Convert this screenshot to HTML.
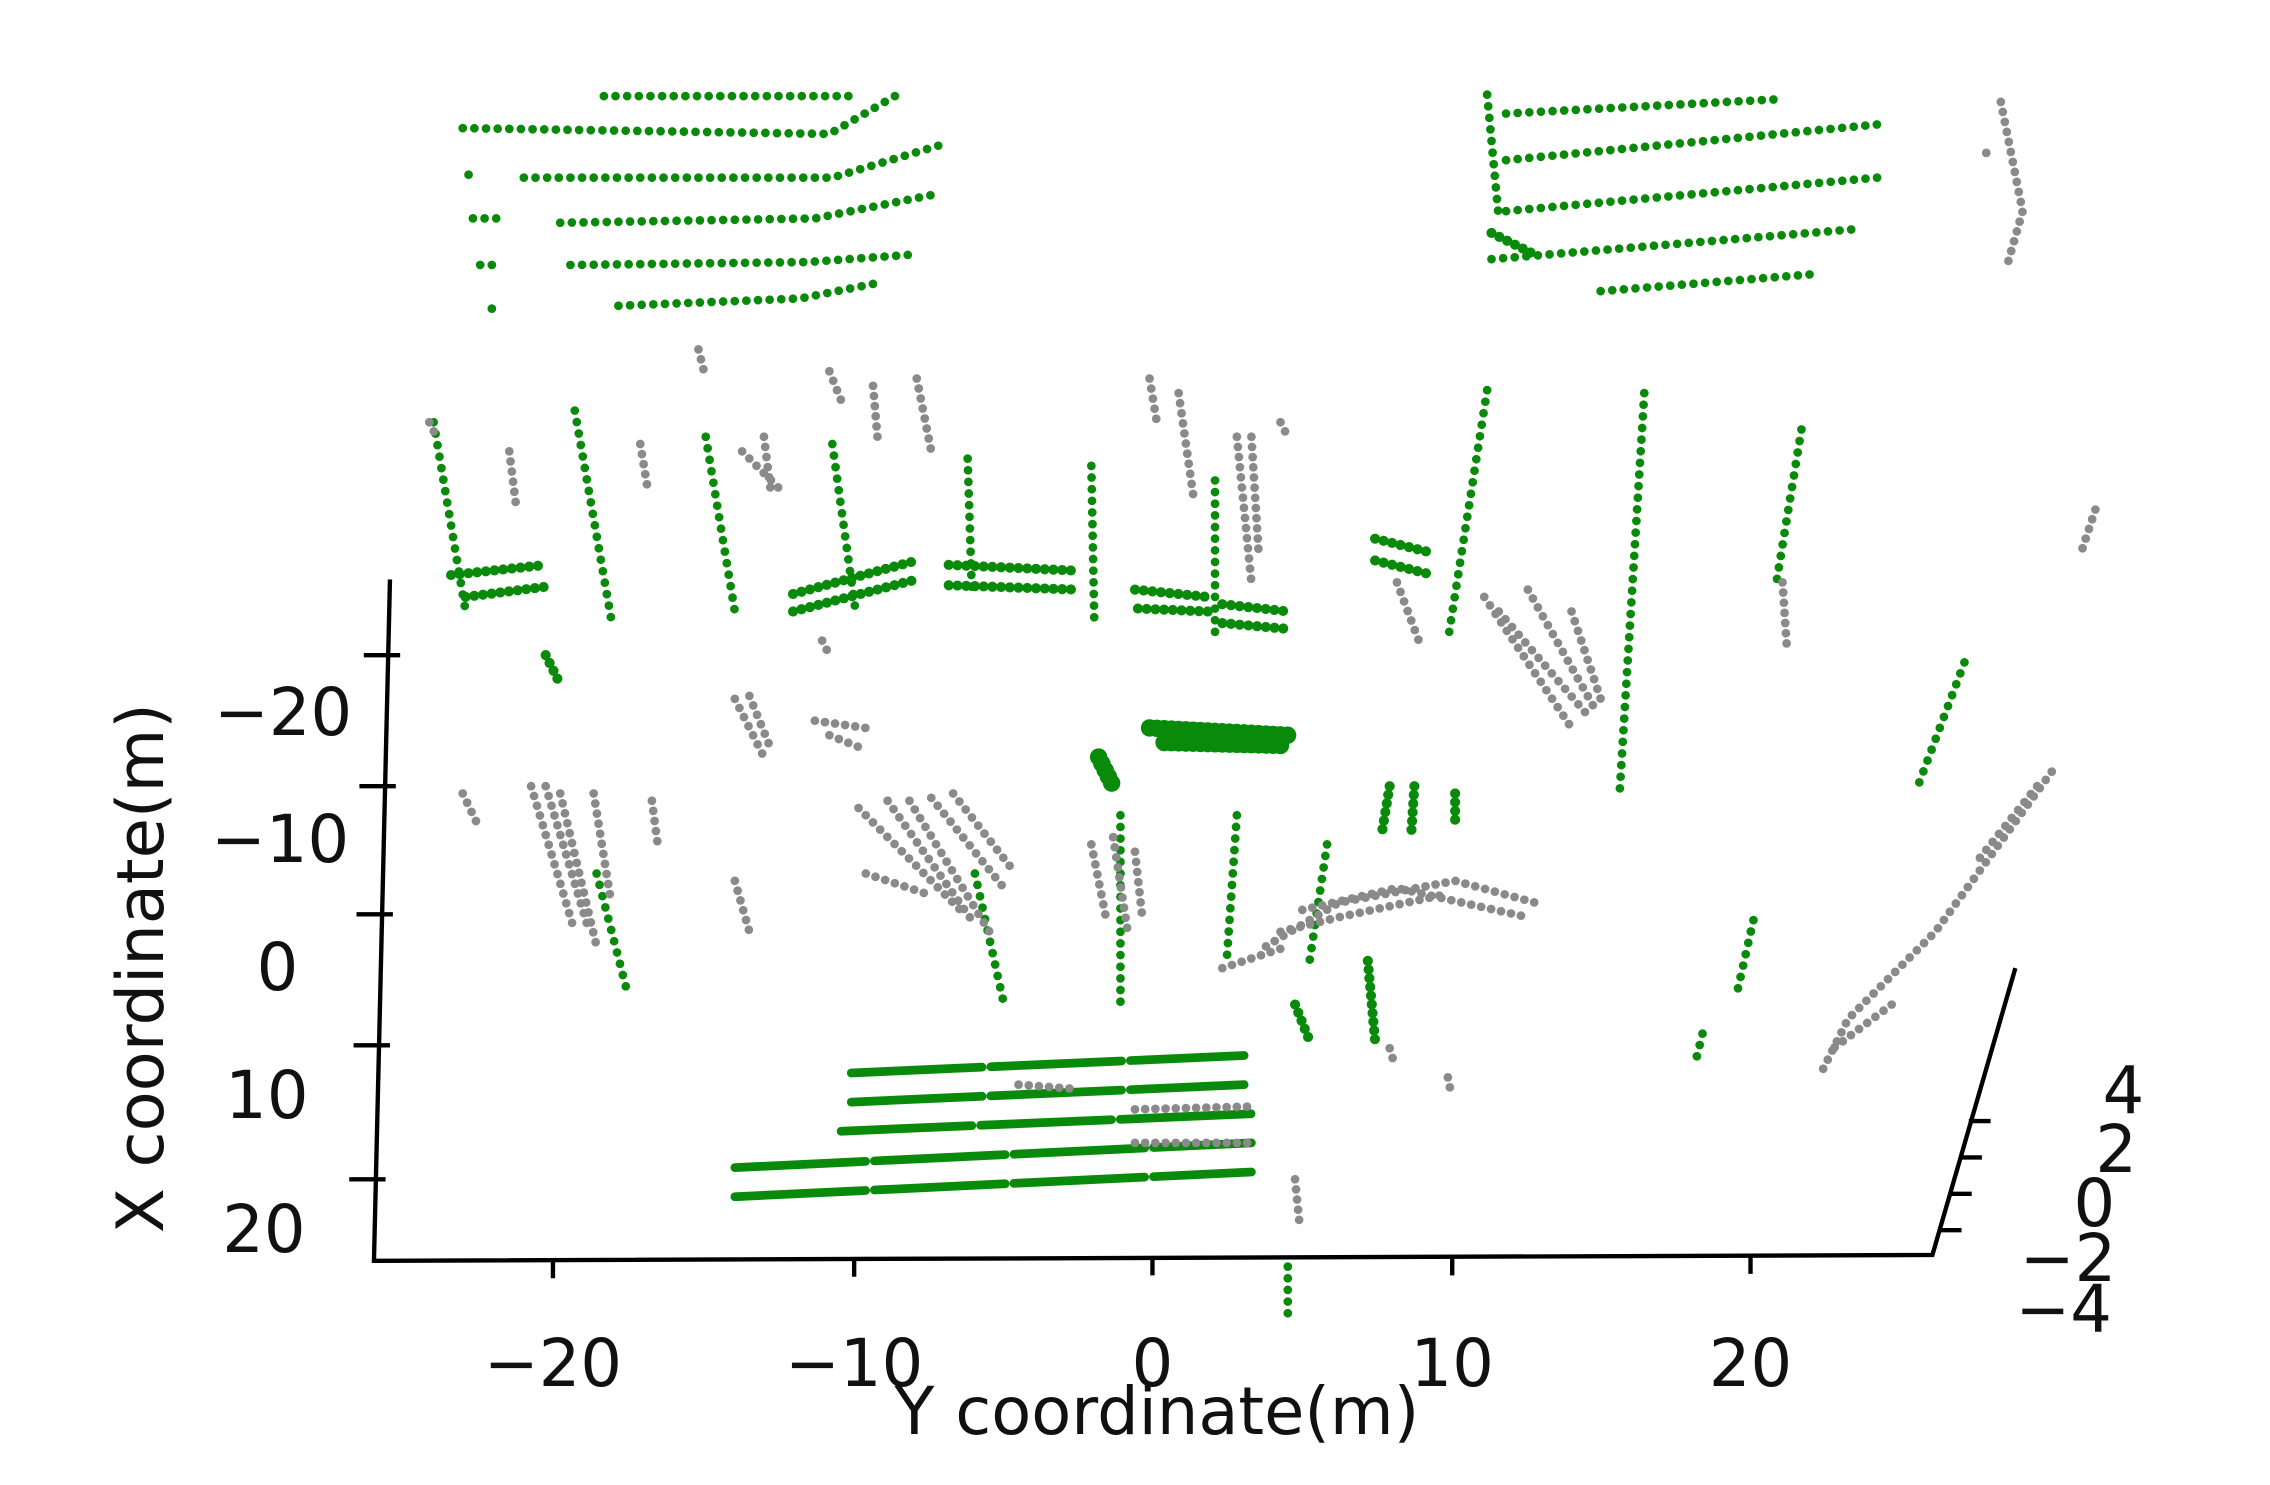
<!DOCTYPE html>
<html><head><style>html,body{margin:0;padding:0;background:#fff}svg{display:block}</style></head>
<body>
<svg width="2270" height="1485" viewBox="0 0 1560 1020" preserveAspectRatio="none" xmlns="http://www.w3.org/2000/svg">
<rect width="1560" height="1020" fill="#fff"/>
<g fill="none" stroke-linecap="round">
<!-- top-left building -->
<g stroke="#0a8a0a" stroke-width="6" stroke-dasharray="0 8">
<path d="M318 88 L570 92 L615 66"/>
<path d="M360 122 L572 122 L645 100"/>
<path d="M325 150 L345 150 M385 153 L560 150 L645 133"/>
<path d="M330 182 L345 182 M392 182 L555 180 L625 175"/>
<path d="M338 212 L345 212 M425 210 L550 205 L600 195"/>
<path d="M415 66 L585 66"/>
<path d="M322 120 L326 120"/>
</g>
<!-- top-right building -->
<g stroke="#0a8a0a" stroke-width="6" stroke-dasharray="0 8">
<path d="M1022 65 L1030 150"/>
<path d="M1035 78 L1225 68"/>
<path d="M1035 110 L1295 85"/>
<path d="M1035 145 L1290 122"/>
<path d="M1025 178 L1280 157"/>
<path d="M1100 200 L1250 188"/>
</g>
<!-- vertical green poles -->
<g stroke="#0a8a0a" stroke-width="6" stroke-dasharray="0 8">
<path d="M298 290 L320 420"/>
<path d="M395 282 L420 425"/>
<path d="M485 300 L505 420"/>
<path d="M572 305 L588 420"/>
<path d="M665 315 L668 410"/>
<path d="M750 320 L752 425"/>
<path d="M835 330 L835 440"/>
<path d="M1022 268 L995 440"/>
<path d="M1130 270 L1113 545"/>
<path d="M1238 295 L1220 405"/>
<path d="M850 560 L843 660"/>
<path d="M912 580 L900 660"/>
<path d="M770 560 L770 690"/>
<path d="M670 600 L690 690"/>
<path d="M410 600 L432 685"/>
<path d="M1350 455 L1318 540"/>
<path d="M1205 632 L1193 685"/>
<path d="M1170 710 L1165 730"/>
<path d="M885 870 L885 905"/>
</g>
<!-- horizontal green clusters mid -->
<g stroke="#0a8a0a" stroke-width="7" stroke-dasharray="0 6">
<path d="M310 395 L375 388"/><path d="M320 410 L375 403"/>
<path d="M545 408 L630 385"/><path d="M545 420 L630 398"/>
<path d="M652 388 L740 392"/><path d="M652 402 L740 405"/>
<path d="M780 405 L830 410"/><path d="M782 418 L830 420"/>
<path d="M840 415 L885 420"/><path d="M840 428 L885 432"/>
<path d="M945 370 L985 380"/><path d="M945 385 L985 395"/>
<path d="M375 450 L385 470"/>
<path d="M955 540 L950 570"/><path d="M972 540 L970 570"/><path d="M1000 545 L1000 565"/>
<path d="M940 660 L945 715"/><path d="M890 690 L900 715"/>
<path d="M1025 160 L1055 175"/>
</g>
<g stroke="#0a8a0a" stroke-width="12" stroke-dasharray="0 5">
<path d="M790 500 L885 505"/><path d="M800 510 L880 512"/>
<path d="M755 520 L765 540"/>
</g>
<!-- bottom horizontal lines -->
<g stroke="#0a8a0a" stroke-width="6" stroke-dasharray="90 6">
<path d="M585 737 L855 725"/>
<path d="M585 757 L855 745"/>
<path d="M578 777 L860 765"/>
<path d="M505 802 L860 785"/>
<path d="M505 822 L860 805"/>
</g>
<!-- gray points -->
<g stroke="#8a8a8a" stroke-width="6" stroke-dasharray="0 7">
<path d="M365 540 L395 640"/><path d="M375 540 L405 640"/><path d="M385 545 L410 650"/>
<path d="M318 545 L330 570"/><path d="M408 545 L420 620"/><path d="M448 550 L452 580"/>
<path d="M505 480 L525 520"/><path d="M515 478 L530 515"/><path d="M560 495 L595 500"/><path d="M570 505 L595 515"/>
<path d="M590 555 L660 625"/><path d="M610 550 L670 635"/><path d="M625 550 L680 640"/><path d="M640 548 L690 610"/><path d="M655 545 L698 600"/><path d="M595 600 L640 615"/>
<path d="M750 580 L760 630"/><path d="M765 575 L775 640"/><path d="M780 585 L785 630"/>
<path d="M505 605 L515 640"/>
<path d="M870 650 L920 620 L1000 605 L1055 620"/><path d="M880 640 L920 630 L990 615"/><path d="M895 625 L960 610 L1050 630"/><path d="M840 665 L885 650"/>
<path d="M1020 410 L1080 500"/><path d="M1030 420 L1090 490"/><path d="M1050 405 L1095 485"/><path d="M1080 420 L1100 480"/>
<path d="M525 300 L530 340"/><path d="M510 310 L535 335"/><path d="M295 290 L300 300"/><path d="M440 305 L445 335"/><path d="M350 310 L355 350"/>
<path d="M850 300 L860 400"/><path d="M860 300 L865 380"/><path d="M790 260 L795 290"/><path d="M810 270 L820 340"/><path d="M880 290 L885 300"/>
<path d="M600 265 L603 300"/><path d="M570 255 L580 280"/><path d="M630 260 L640 310"/><path d="M480 240 L485 260"/>
<path d="M960 400 L975 440"/><path d="M1225 400 L1228 445"/>
<path d="M1410 530 L1330 640 L1270 700 L1250 740"/><path d="M1400 540 L1360 590"/><path d="M1300 690 L1260 720"/>
<path d="M1440 350 L1430 380"/><path d="M1375 70 L1390 145 L1380 180"/><path d="M1365 105 L1368 110"/>
<path d="M780 762 L860 760"/><path d="M780 785 L860 785"/><path d="M700 745 L740 748"/>
<path d="M890 810 L893 840"/><path d="M955 720 L958 730"/><path d="M995 740 L997 750"/>
<path d="M565 440 L570 450"/>
</g>
</g>
<!-- axes -->
<g stroke="#000" stroke-width="3" fill="none">
<path d="M268 398 L257 866 L1328 862 L1385 665"/>
<path d="M250 450 L275 450 M247 540 L272 540 M245 628 L270 628 M243 718 L268 718 M240 810 L265 810"/>
<path d="M380 866 L380 878 M587 865 L587 877 M792 864 L792 876 M998 864 L998 876 M1203 863 L1203 875"/>
<path d="M1333 845 L1348 845 M1340 820 L1355 820 M1347 795 L1362 795 M1353 770 L1368 770"/>
</g>
<g font-family="'DejaVu Sans','Liberation Sans',sans-serif" font-size="45" fill="#111">
<text x="242" y="505" text-anchor="end">−20</text>
<text x="240" y="592" text-anchor="end">−10</text>
<text x="205" y="680" text-anchor="end">0</text>
<text x="212" y="768" text-anchor="end">10</text>
<text x="210" y="860" text-anchor="end">20</text>
<text x="380" y="952" text-anchor="middle">−20</text>
<text x="587" y="952" text-anchor="middle">−10</text>
<text x="792" y="952" text-anchor="middle">0</text>
<text x="998" y="952" text-anchor="middle">10</text>
<text x="1203" y="952" text-anchor="middle">20</text>
<text x="795" y="985" text-anchor="middle">Y coordinate(m)</text>
<text transform="translate(112,665) rotate(-90)" text-anchor="middle">X coordinate(m)</text>
<text x="1445" y="765">4</text>
<text x="1440" y="805">2</text>
<text x="1425" y="842">0</text>
<text x="1388" y="880">−2</text>
<text x="1385" y="915">−4</text>
</g>
</svg>
</body></html>
